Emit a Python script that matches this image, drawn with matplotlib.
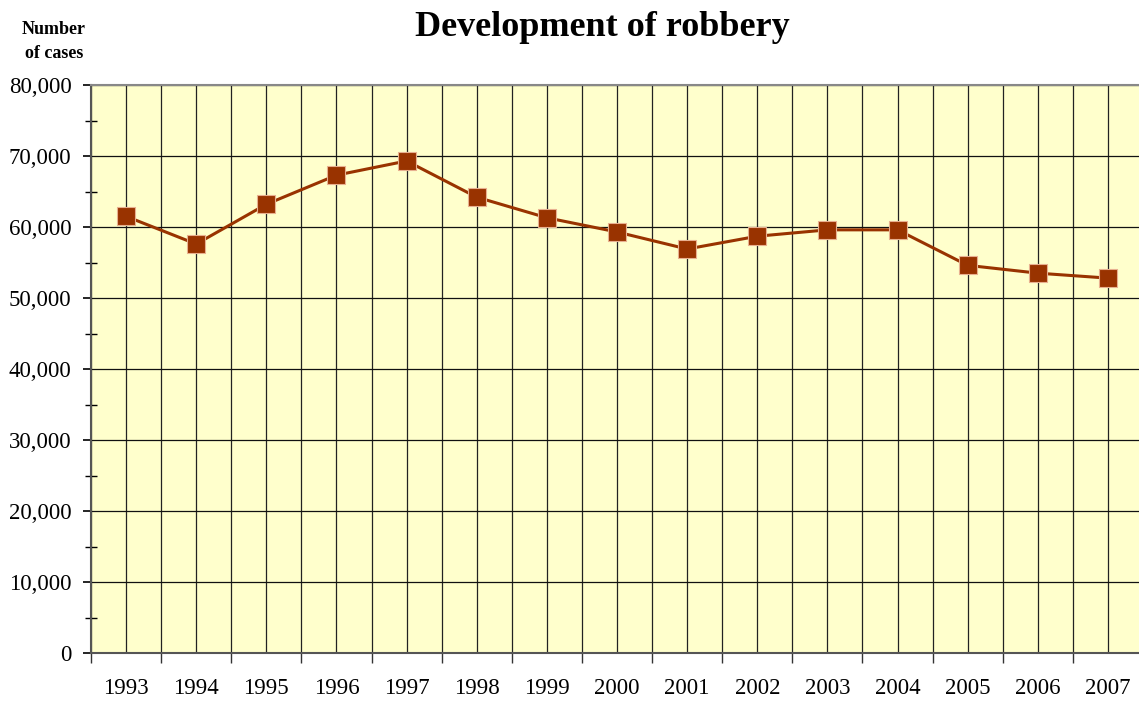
"""Development of robbery, 1993-2007 (line chart with square markers)."""

import matplotlib

matplotlib.use("Agg")
import matplotlib.pyplot as plt
import numpy as np
from matplotlib.ticker import FuncFormatter, MultipleLocator

years = ["1993", "1994", "1995", "1996", "1997", "1998", "1999", "2000",
         "2001", "2002", "2003", "2004", "2005", "2006", "2007"]
cases = [61500, 57600, 63200, 67300, 69300, 64200, 61300, 59300,
         56900, 58700, 59600, 59600, 54600, 53500, 52800]

plt.rcParams.update({
    "font.family": ["Liberation Serif", "DejaVu Serif"],
})


def main() -> None:
    W, H = 1139, 704
    fig = plt.figure(figsize=(W / 100, H / 100), dpi=100)
    left, right, top, bottom = 91, 1143, 85, 653
    ax = fig.add_axes([left / W, 1 - bottom / H, (right - left) / W, (bottom - top) / H])
    ax.set_facecolor("#FFFFCC")

    x = np.arange(len(years))
    ax.set_xlim(-0.5, len(years) - 0.5)
    ax.set_ylim(0, 80000)

    # vertical grid at category centres and boundaries
    for xv in np.arange(-0.5, len(years), 0.5):
        ax.axvline(xv, color="#222222", lw=0.9, zorder=1)
    for yv in range(10000, 80001, 10000):
        ax.axhline(yv, color="#111111", lw=0.9, zorder=1)

    ax.plot(x, cases, color="#993300", lw=2.2, marker="s", markersize=13,
            markerfacecolor="#993300", markeredgecolor="#E8B090",
            markeredgewidth=0.8, zorder=3, clip_on=False)

    ax.yaxis.set_major_locator(MultipleLocator(10000))
    ax.yaxis.set_minor_locator(MultipleLocator(5000))
    ax.yaxis.set_major_formatter(FuncFormatter(lambda v, p: f"{int(v):,}"))
    ax.tick_params(axis="y", which="major", direction="out", length=6, width=1.2,
                   labelsize=16.5, pad=8, color="black")
    ax.tick_params(axis="y", which="minor", direction="inout", length=8, width=1.0,
                   color="black")

    ax.set_xticks(np.arange(-0.5, len(years), 1.0))
    ax.set_xticklabels([])
    ax.set_xticks(x, minor=True)
    ax.set_xticklabels(years, minor=True)
    ax.tick_params(axis="x", which="major", direction="out", length=7, width=1.0,
                   color="#333333")
    ax.tick_params(axis="x", which="minor", length=0, labelsize=16.5, pad=18)

    for s in ("left", "bottom"):
        ax.spines[s].set_color("#555555")
        ax.spines[s].set_linewidth(1.5)
    ax.spines["top"].set_color("#888888")
    ax.spines["top"].set_linewidth(1.5)
    ax.spines["right"].set_visible(False)

    fig.text(602 / W, 1 - 27 / H, "Development of robbery", ha="center", va="center",
             fontsize=26, fontweight="bold")
    fig.text(54 / W, 1 - 29 / H, "Number", ha="center", va="center",
             fontsize=13, fontweight="bold")
    fig.text(54 / W, 1 - 54 / H, "of cases", ha="center", va="center",
             fontsize=13, fontweight="bold")

    fig.savefig("out.png", dpi=100)
    plt.close(fig)


if __name__ == "__main__":
    main()
